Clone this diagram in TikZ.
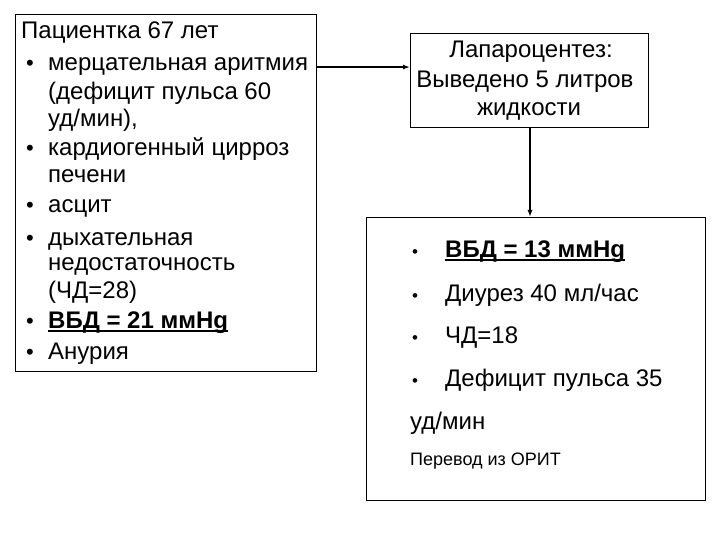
\documentclass[tikz,border=0pt]{standalone}
\usepackage{fontspec}
\setmainfont{Liberation Sans}
\usetikzlibrary{arrows.meta}
\newcommand\myul[1]{\setbox0\hbox{#1}\rlap{\rule[-4pt]{\wd0}{1.8pt}}\box0}
\tikzset{
  box/.style={draw=black, line width=1pt, anchor=north west, inner sep=0pt},
  txt/.style={anchor=base west, inner sep=0pt, font=\fontsize{24}{28}\selectfont},
  ctxt/.style={anchor=base, inner sep=0pt, font=\fontsize{24}{28}\selectfont},
  bul/.style={anchor=base, inner sep=0pt, font=\fontsize{22}{26}\selectfont},
  sbul/.style={anchor=base, inner sep=0pt, font=\fontsize{17}{20}\selectfont},
  small/.style={anchor=base west, inner sep=0pt, font=\fontsize{18}{22}\selectfont},
  arr/.style={-{Latex[length=7pt,width=5pt]}, line width=1.6pt}
}
\begin{document}
\begin{tikzpicture}[x=1pt,y=-1pt]
\useasboundingbox (0,0) rectangle (720,540);
% boxes
\node[box, minimum width=301pt, minimum height=357pt] (left) at (15,14) {};
\node[box, minimum width=238pt, minimum height=94pt] (lap) at (410,33) {};
\node[box, minimum width=339pt, minimum height=283pt] (res) at (366,217) {};
% left text
\node[txt] (l1) at (21,39) {Пациентка 67 лет};
\node[bul] (b1) at (30,71) {•};
\node[txt] (l2) at (48,71) {мерцательная аритмия};
\node[txt] (l3) at (48,100) {(дефицит пульса 60};
\node[txt] (l4) at (48,127) {уд/мин),};
\node[bul] (b2) at (30,156) {•};
\node[txt] (l5) at (48,156) {кардиогенный цирроз};
\node[txt] (l6) at (48,183) {печени};
\node[bul] (b3) at (30,213) {•};
\node[txt] (l7) at (48,213) {асцит};
\node[bul] (b4) at (30,245) {•};
\node[txt] (l8) at (48,245) {дыхательная};
\node[txt] (l9) at (48,270) {недостаточность};
\node[txt] (l10) at (48,298) {(ЧД=28)};
\node[bul] (b5) at (30,328) {•};
\node[txt] (l11) at (48,328) {\myul{\textbf{ВБД = 21 ммHg}}};
\node[bul] (b6) at (30,359) {•};
\node[txt] (l12) at (48,359) {Анурия};
% top right text
\node[ctxt] (t1) at (531,58) {Лапароцентез:};
\node[ctxt] (t2) at (525,88) {Выведено 5 литров};
\node[ctxt] (t3) at (529,116) {жидкости};
% bottom right text
\node[sbul] (c1) at (415,257) {•};
\node[txt] (r1) at (445,257) {\myul{\textbf{ВБД = 13 ммHg}}};
\node[sbul] (c2) at (415,301) {•};
\node[txt] (r2) at (445,301) {Диурез 40 мл/час};
\node[sbul] (c3) at (415,343) {•};
\node[txt] (r3) at (445,343) {ЧД=18};
\node[sbul] (c4) at (415,386) {•};
\node[txt] (r4) at (445,386) {Дефицит пульса 35};
\node[txt] (r5) at (410,429) {уд/мин};
\node[small] (r6) at (410,465) {Перевод из ОРИТ};
% connectors
\draw[arr] (left.east |- l2.center) -- (lap.west |- l2.center);
\draw[arr, line width=2.4pt] (lap.south -| 530,0) -- (res.north -| 530,0);
\end{tikzpicture}
\end{document}
